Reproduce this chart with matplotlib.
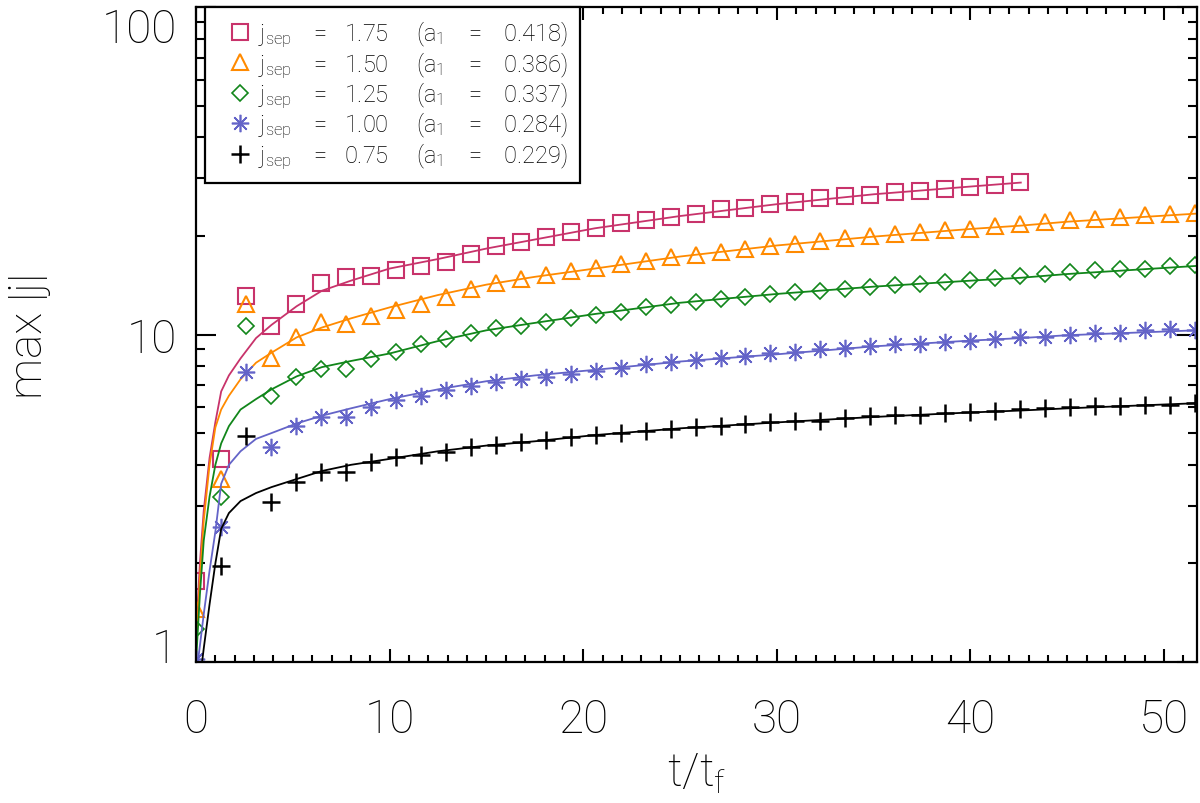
import numpy as np
import matplotlib
matplotlib.use("Agg")
import matplotlib.pyplot as plt
from matplotlib.lines import Line2D

plt.rcParams['font.family'] = ['Roboto', 'DejaVu Sans']
plt.rcParams['font.weight'] = 'light'
plt.rcParams['axes.labelweight'] = 'light'
plt.rcParams['mathtext.fontset'] = 'custom'
plt.rcParams['mathtext.rm'] = 'Roboto:light'
plt.rcParams['mathtext.it'] = 'Roboto:light'
plt.rcParams['mathtext.default'] = 'rm'

# sample times of the simulation snapshots (t/t_f)
t_snap = [0.0, 1.29, 2.58, 3.87, 5.16, 6.45, 7.74, 9.03, 10.32, 11.61, 12.9,
          14.19, 15.48, 16.77, 18.06, 19.35, 20.64, 21.93, 23.22, 24.51, 25.8,
          27.09, 28.38, 29.67, 30.96, 32.25, 33.54, 34.83, 36.12, 37.41, 38.7,
          39.99, 41.28, 42.57, 43.86, 45.15, 46.44, 47.73, 49.02, 50.31, 51.6]

# max |j| for each j_sep run
j175 = [1.77, 4.17, 13.1, 10.6, 12.4, 14.4, 14.96, 15.06, 15.7, 16.2, 16.7,
        17.6, 18.6, 19.2, 19.9, 20.6, 21.2, 21.9, 22.3, 22.8, 23.3, 24.2,
        24.3, 25.0, 25.3, 26.1, 26.4, 26.7, 27.2, 27.5, 27.9, 28.3, 28.6, 29.2]
j150 = [1.45, 3.62, 12.4, 8.5, 9.8, 10.9, 10.8, 11.4, 11.9, 12.4, 13.0, 13.8,
        14.4, 14.8, 15.2, 15.6, 16.0, 16.4, 16.8, 17.3, 17.5, 17.9, 18.2, 18.6,
        18.9, 19.3, 19.7, 20.0, 20.3, 20.5, 20.9, 21.0, 21.4, 21.7, 22.0, 22.3,
        22.5, 22.8, 23.1, 23.3, 23.5]
j125 = [1.26, 3.19, 10.6, 6.5, 7.4, 7.85, 7.85, 8.42, 8.82, 9.35, 9.69, 10.1,
        10.45, 10.6, 10.9, 11.2, 11.5, 11.7, 12.1, 12.3, 12.6, 12.8, 13.0,
        13.3, 13.5, 13.6, 13.8, 14.0, 14.2, 14.3, 14.5, 14.7, 14.9, 15.1, 15.3,
        15.5, 15.7, 15.85, 15.9, 16.2, 16.3]
j100 = [1.02, 2.58, 7.67, 4.53, 5.27, 5.59, 5.59, 6.0, 6.33, 6.5, 6.77, 6.95,
        7.15, 7.31, 7.4, 7.57, 7.75, 7.89, 8.13, 8.23, 8.36, 8.46, 8.62, 8.76,
        8.86, 9.03, 9.09, 9.2, 9.35, 9.35, 9.46, 9.58, 9.69, 9.8, 9.8, 9.98,
        10.1, 10.1, 10.3, 10.4, 10.35]
j075 = [0.85, 1.97, 4.91, 3.08, 3.54, 3.8, 3.8, 4.07, 4.22, 4.29, 4.39, 4.52,
        4.6, 4.69, 4.77, 4.86, 4.93, 5.0, 5.08, 5.14, 5.21, 5.27, 5.33, 5.39,
        5.46, 5.46, 5.55, 5.63, 5.68, 5.68, 5.76, 5.81, 5.85, 5.92, 5.95, 5.99,
        6.06, 6.06, 6.09, 6.1, 6.17]

# fitted curves
t_fit = [0.0, 0.2, 0.4, 0.7, 1.0, 1.3, 1.7, 2.3, 3.1, 3.9, 5.2, 6.5, 8.0, 10.0,
         12.5, 15.0, 17.5, 20.6, 25.0, 30.0, 35.0, 40.0, 42.6, 45.0, 51.7]
fit175 = [1.2, 2.0, 2.9, 4.2, 5.4, 6.7, 7.5, 8.45, 9.75, 10.7, 12.2, 13.6, 14.6,
          15.9, 17.0, 18.3, 19.5, 21.1, 23.0, 25.0, 26.8, 28.3, 29.1]
fit150 = [1.1, 1.8, 2.7, 4.0, 5.2, 5.9, 6.5, 7.3, 8.2, 8.8, 9.8, 10.5, 11.2,
          12.1, 13.2, 14.2, 15.0, 15.9, 17.3, 18.7, 19.9, 21.0, 21.5, 22.1, 23.4]
fit125 = [1.0, 1.6, 2.35, 3.2, 4.0, 4.65, 5.25, 5.9, 6.35, 6.8, 7.45, 7.95, 8.3,
          8.75, 9.55, 10.3, 10.85, 11.55, 12.5, 13.3, 14.0, 14.6, 14.9, 15.3, 16.2]
fit100 = [0.9, 1.12, 1.4, 1.9, 2.5, 3.5, 4.0, 4.4, 4.8, 5.0, 5.35, 5.65, 5.95,
          6.35, 6.8, 7.2, 7.5, 7.8, 8.27, 8.7, 9.2, 9.58, 9.75, 9.95, 10.3]
fit075 = [0.75, 0.88, 1.1, 1.5, 2.0, 2.55, 2.85, 3.1, 3.28, 3.42, 3.62, 3.83,
          4.0, 4.17, 4.4, 4.58, 4.72, 4.93, 5.17, 5.39, 5.6, 5.78, 5.86, 5.95, 6.17]

labels = ['j$_{sep}$    =   1.75     (a$_1$    =    0.418)',
          'j$_{sep}$    =   1.50     (a$_1$    =    0.386)',
          'j$_{sep}$    =   1.25     (a$_1$    =    0.337)',
          'j$_{sep}$    =   1.00     (a$_1$    =    0.284)',
          'j$_{sep}$    =   0.75     (a$_1$    =    0.229)']
colors = ['#C8336B', '#FF8A00', '#11861A', '#6464C8', '#000000']
markers = ['s', '^', 'D', (8, 2, 0), '+']
msizes = [11.5, 12.0, 8.5, 12.5, 13.5]
mews = [1.5, 1.5, 1.2, 1.2, 1.8]

series = [j175, j150, j125, j100, j075]
fits = [fit175, fit150, fit125, fit100, fit075]

fig = plt.figure(figsize=(12, 8.04), dpi=100)
ax = fig.add_axes([196/1200, (804-663)/804, (1197-196)/1200, (663-8)/804])

handles = []
for y, yf, c, m, ms, mw in zip(series, fits, colors, markers, msizes, mews):
    ax.plot(t_fit[:len(yf)], yf, color=c, lw=1.3)
    ax.plot(t_snap[:len(y)], y, ls='none', marker=m, ms=ms, mew=mw,
            mfc='none', mec=c)
    handles.append(Line2D([], [], ls='none', marker=m, ms=ms, mew=mw,
                          mfc='none', mec=c))

ax.set_yscale('log')
ax.set_xlim(0, 51.7)
ax.set_ylim(1, 100)
ax.set_xticks([0, 10, 20, 30, 40, 50])
ax.set_xticks(np.arange(0, 52, 1), minor=True)
ax.set_yticks([1, 10, 100])
ax.set_yticklabels(['1', '10', '100'])
ax.yaxis.set_minor_formatter(matplotlib.ticker.NullFormatter())

for s in ax.spines.values():
    s.set_linewidth(1.6)
ax.tick_params(axis='both', which='both', direction='in', top=True, right=True,
               width=1.5, labelsize=33)
ax.tick_params(axis='y', which='major', length=14.4, pad=14)
ax.tick_params(axis='y', which='minor', length=6.8)
ax.tick_params(axis='x', which='major', length=9.4, pad=25)
ax.tick_params(axis='x', which='minor', length=5.0)

# IDL keeps the end labels inside the axis range
ylab = ax.get_yticklabels()
ylab[0].set_va('baseline')
ylab[-1].set_va('top')

ax.set_xlabel('t/t$_f$', fontsize=33, labelpad=7)
ax.set_ylabel('max |j|', fontsize=33, labelpad=36)

leg = ax.legend(handles, labels, loc='upper left', bbox_to_anchor=(0.009, 1.0),
                borderaxespad=0, fontsize=17, frameon=True, fancybox=False,
                edgecolor='black', framealpha=1, handlelength=1.95,
                handletextpad=-0.2, labelspacing=0.0, borderpad=0.5)
leg.get_frame().set_linewidth(1.6)

fig.savefig('out.png', dpi=100)
